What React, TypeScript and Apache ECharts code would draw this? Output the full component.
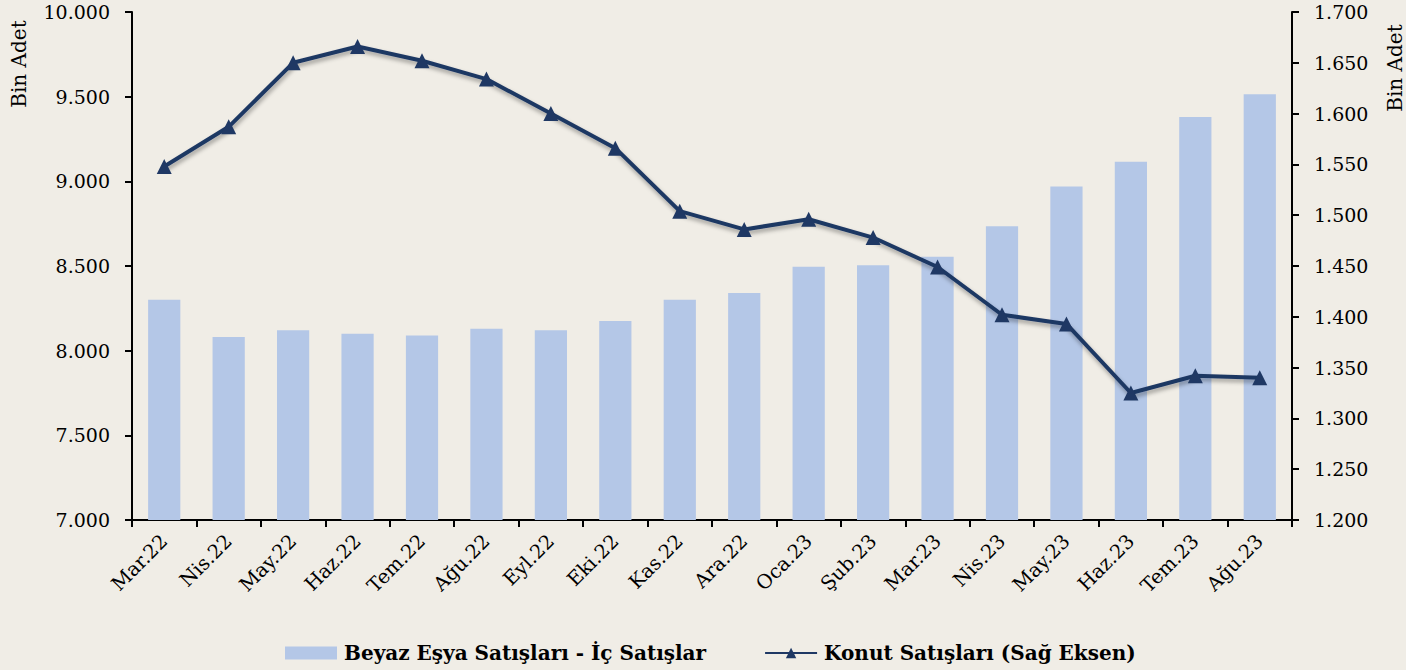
import React, { useEffect, useRef } from "react";
import * as echarts from "echarts";

const categories = ["Mar.22","Nis.22","May.22","Haz.22","Tem.22","Ağu.22","Eyl.22","Eki.22","Kas.22","Ara.22","Oca.23","Şub.23","Mar.23","Nis.23","May.23","Haz.23","Tem.23","Ağu.23"];
const beyazEsya = [8300, 8080, 8120, 8100, 8090, 8130, 8120, 8175, 8300, 8340, 8495, 8505, 8555, 8735, 8970, 9115, 9380, 9515];
const konut = [1548, 1587, 1650, 1666, 1652, 1634, 1600, 1566, 1504, 1486, 1496, 1478, 1449, 1402, 1393, 1325, 1342, 1340];
const barName = "Beyaz Eşya Satışları - İç Satışlar";
const lineName = "Konut Satışları (Sağ Eksen)";

const fmt = (v: number) => {
  const s = Math.round(v).toString();
  return s.replace(/\B(?=(\d{3})+(?!\d))/g, ".");
};

export default function App() {
  const ref = useRef<HTMLDivElement>(null);
  useEffect(() => {
    document.body.style.margin = "0";
    const chart = echarts.init(ref.current!, null, { renderer: "svg" });
    const font = "DejaVu Serif";
    chart.setOption({
      animation: false,
      backgroundColor: "#F0EDE6",
      grid: { left: 132, right: 114, top: 12, bottom: 150 },
      legend: {
        top: 638,
        left: 280,
        itemGap: 58,
        itemWidth: 52,
        itemHeight: 13,
        textStyle: { fontFamily: font, fontWeight: "bold", fontSize: 20, color: "#000", padding: [0, 0, 0, 2] },
        data: [
          { name: barName, icon: "rect" },
          { name: lineName },
        ],
      },
      xAxis: {
        type: "category",
        data: categories,
        boundaryGap: true,
        axisLine: { lineStyle: { color: "#000", width: 2 } },
        axisTick: { show: true, alignWithLabel: false, length: 7, lineStyle: { color: "#000", width: 2 } },
        axisLabel: { rotate: 45, fontFamily: font, fontSize: 19.5, color: "#000", margin: 18, interval: 0 },
      },
      yAxis: [
        {
          type: "value",
          min: 7000,
          max: 10000,
          interval: 500,
          position: "left",
          axisLine: { show: true, lineStyle: { color: "#000", width: 2 } },
          axisTick: { show: true, length: 7, lineStyle: { color: "#000", width: 2 } },
          splitLine: { show: false },
          axisLabel: { formatter: fmt, fontFamily: font, fontSize: 19, color: "#000", margin: 22 },
        },
        {
          type: "value",
          min: 1200,
          max: 1700,
          interval: 50,
          position: "right",
          axisLine: { show: true, lineStyle: { color: "#000", width: 2 } },
          axisTick: { show: true, length: 7, lineStyle: { color: "#000", width: 2 } },
          splitLine: { show: false },
          axisLabel: { formatter: fmt, fontFamily: font, fontSize: 19, color: "#000", margin: 22 },
        },
      ],
      graphic: [
        {
          type: "text",
          x: 19,
          y: 64,
          rotation: Math.PI / 2,
          style: { text: "Bin Adet", fontFamily: font, fontSize: 20, fill: "#000", align: "center", verticalAlign: "middle" },
        },
        {
          type: "text",
          x: 1395,
          y: 68,
          rotation: Math.PI / 2,
          style: { text: "Bin Adet", fontFamily: font, fontSize: 20, fill: "#000", align: "center", verticalAlign: "middle" },
        },
      ],
      series: [
        {
          name: barName,
          type: "bar",
          data: beyazEsya,
          yAxisIndex: 0,
          barWidth: "50%",
          itemStyle: { color: "#B4C7E7" },
        },
        {
          name: lineName,
          type: "line",
          data: konut,
          yAxisIndex: 1,
          symbol: "triangle",
          symbolSize: 15,
          lineStyle: { color: "#1F3864", width: 4, shadowColor: "rgba(0,0,0,0.35)", shadowBlur: 4, shadowOffsetY: 3, shadowOffsetX: 1 },
          itemStyle: { color: "#1F3864" },
        },
      ],
    });
    return () => chart.dispose();
  }, []);
  return <div ref={ref} style={{ width: 1406, height: 670 }} />;
}
